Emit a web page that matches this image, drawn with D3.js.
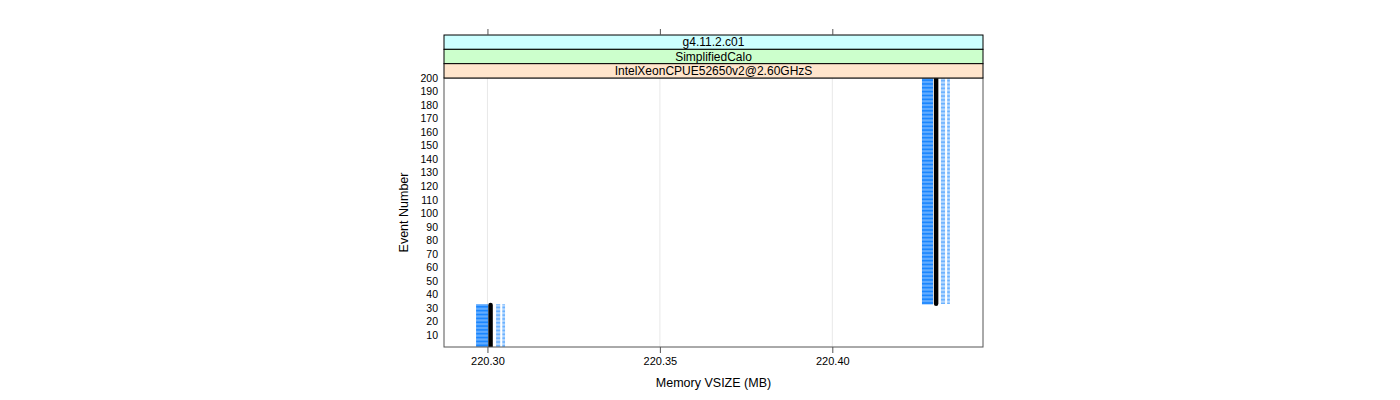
<!DOCTYPE html>
<html>
<head>
<meta charset="utf-8">
<script src="https://cdn.jsdelivr.net/npm/d3@7"></script>
<style>
html,body{margin:0;padding:0;background:#fff;}
text{font-family:"Liberation Sans",Arial,Helvetica,sans-serif;}
</style>
</head>
<body>
<svg id="chart" width="1400" height="400"></svg>
<script>
// ---- data ----
const stripLabels = ["g4.11.2.c01", "SimplifiedCalo", "IntelXeonCPUE52650v2@2.60GHzS"];
const stripColors = ["#ccffff", "#ccffcc", "#ffe5cc"];
const xTicks = [220.30, 220.35, 220.40];
const yTicks = [10,20,30,40,50,60,70,80,90,100,110,120,130,140,150,160,170,180,190,200];
// event ranges for each memory plateau
const groupFirstEvent = [1, 33];
const groupLastEvent = [32, 200];
// VSIZE values (MB) for each plateau
const bandLow = [220.2967, 220.4260];
const bandHigh = [220.3002, 220.4292];
const centerVal = [220.3009, 220.4301];
const outer1Low = [220.3025, 220.4315];
const outer1High = [220.3037, 220.4327];
const outer2Low = [220.3043, 220.4333];
const outer2High = [220.3051, 220.4341];
const xDomain = [220.2874, 220.4437];
const yDomain = [1, 200];

// ---- layout ----
const svg = d3.select("#chart");
const L = 444, R = 983, T = 78, B = 347;
const stripH = 14.33;

const x = d3.scaleLinear().domain(xDomain).range([L, R]);
const y = d3.scaleLinear().domain(yDomain).range([B, T]);
const step = Math.abs(y(2) - y(1));

svg.append("rect").attr("width",1400).attr("height",400).attr("fill","#fff");

// grid
svg.append("g").selectAll("line").data(xTicks).join("line")
  .attr("x1", d => x(d)).attr("x2", d => x(d))
  .attr("y1", T).attr("y2", B)
  .attr("stroke", "#e8e8e8").attr("stroke-width", 1);

svg.append("defs").append("clipPath").attr("id","pclip")
  .append("rect").attr("x", L).attr("y", T).attr("width", R-L).attr("height", B-T);

const plot = svg.append("g").attr("clip-path","url(#pclip)");

// build per-event rows
const rows = [];
groupFirstEvent.forEach((f, gi) => {
  for (let e = f; e <= groupLastEvent[gi]; e++) rows.push({e, gi});
});

// blue band rows
plot.append("g").selectAll("rect").data(rows).join("rect")
  .attr("x", d => x(bandLow[d.gi]))
  .attr("width", d => x(bandHigh[d.gi]) - x(bandLow[d.gi]))
  .attr("y", d => y(d.e) - step/2)
  .attr("height", step*0.9)
  .attr("fill", "#1a86ff");

// lighter dashed columns
[[outer1Low, outer1High], [outer2Low, outer2High]].forEach(([lo, hi]) => {
  plot.append("g").selectAll("rect").data(rows).join("rect")
    .attr("x", d => x(lo[d.gi]))
    .attr("width", d => x(hi[d.gi]) - x(lo[d.gi]))
    .attr("y", d => y(d.e) - step/2)
    .attr("height", step*0.6)
    .attr("fill", "#4aa0ff");
});

// black center lines
groupFirstEvent.forEach((f, gi) => {
  plot.append("line")
    .attr("x1", x(centerVal[gi])).attr("x2", x(centerVal[gi]))
    .attr("y1", y(f)).attr("y2", y(groupLastEvent[gi]))
    .attr("stroke", "#000").attr("stroke-width", 4.5)
    .attr("stroke-linecap", "round");
});

// panel border
svg.append("rect").attr("x", L).attr("y", T).attr("width", R-L).attr("height", B-T)
  .attr("fill","none").attr("stroke","#555").attr("stroke-width",1);

// strips
stripLabels.forEach((lab, i) => {
  const sy = T - stripH*(3 - i);
  svg.append("rect").attr("x", L).attr("y", sy).attr("width", R-L).attr("height", stripH)
    .attr("fill", stripColors[i]).attr("stroke", "#000").attr("stroke-width", 1);
  svg.append("text").attr("x", (L+R)/2).attr("y", sy + stripH/2 + 4.2)
    .attr("text-anchor","middle").attr("font-size", 12).attr("fill","#000").text(lab);
});

// bottom axis
const xAxis = d3.axisBottom(x).tickValues(xTicks).tickFormat(d3.format(".2f")).tickSize(6).tickPadding(4);
const gx = svg.append("g").attr("transform", `translate(0,${B})`).call(xAxis);
gx.select(".domain").remove();
gx.selectAll("line").attr("stroke","#555");
gx.selectAll("text").attr("font-size", 11).attr("fill","#000")
  .attr("font-family",'"Liberation Sans",Arial,sans-serif');

// top ticks (above strips)
const topY = T - stripH*3;
const xTop = d3.axisTop(x).tickValues(xTicks).tickFormat("").tickSize(6);
const gt = svg.append("g").attr("transform", `translate(0,${topY})`).call(xTop);
gt.select(".domain").remove();
gt.selectAll("line").attr("stroke","#555");

// left axis labels
const yAxis = d3.axisLeft(y).tickValues(yTicks).tickSize(0).tickPadding(6);
const gy = svg.append("g").attr("transform", `translate(${L},0)`).call(yAxis);
gy.select(".domain").remove();
gy.selectAll("text").attr("font-size", 10.5).attr("fill","#000")
  .attr("font-family",'"Liberation Sans",Arial,sans-serif');

// axis titles
svg.append("text").attr("x", (L+R)/2).attr("y", 387).attr("text-anchor","middle")
  .attr("font-size", 12.5).attr("fill","#000").text("Memory VSIZE (MB)");
svg.append("text").attr("transform", `translate(408,${(T+B)/2}) rotate(-90)`)
  .attr("text-anchor","middle").attr("font-size", 12.5).attr("fill","#000").text("Event Number");
</script>
</body>
</html>
